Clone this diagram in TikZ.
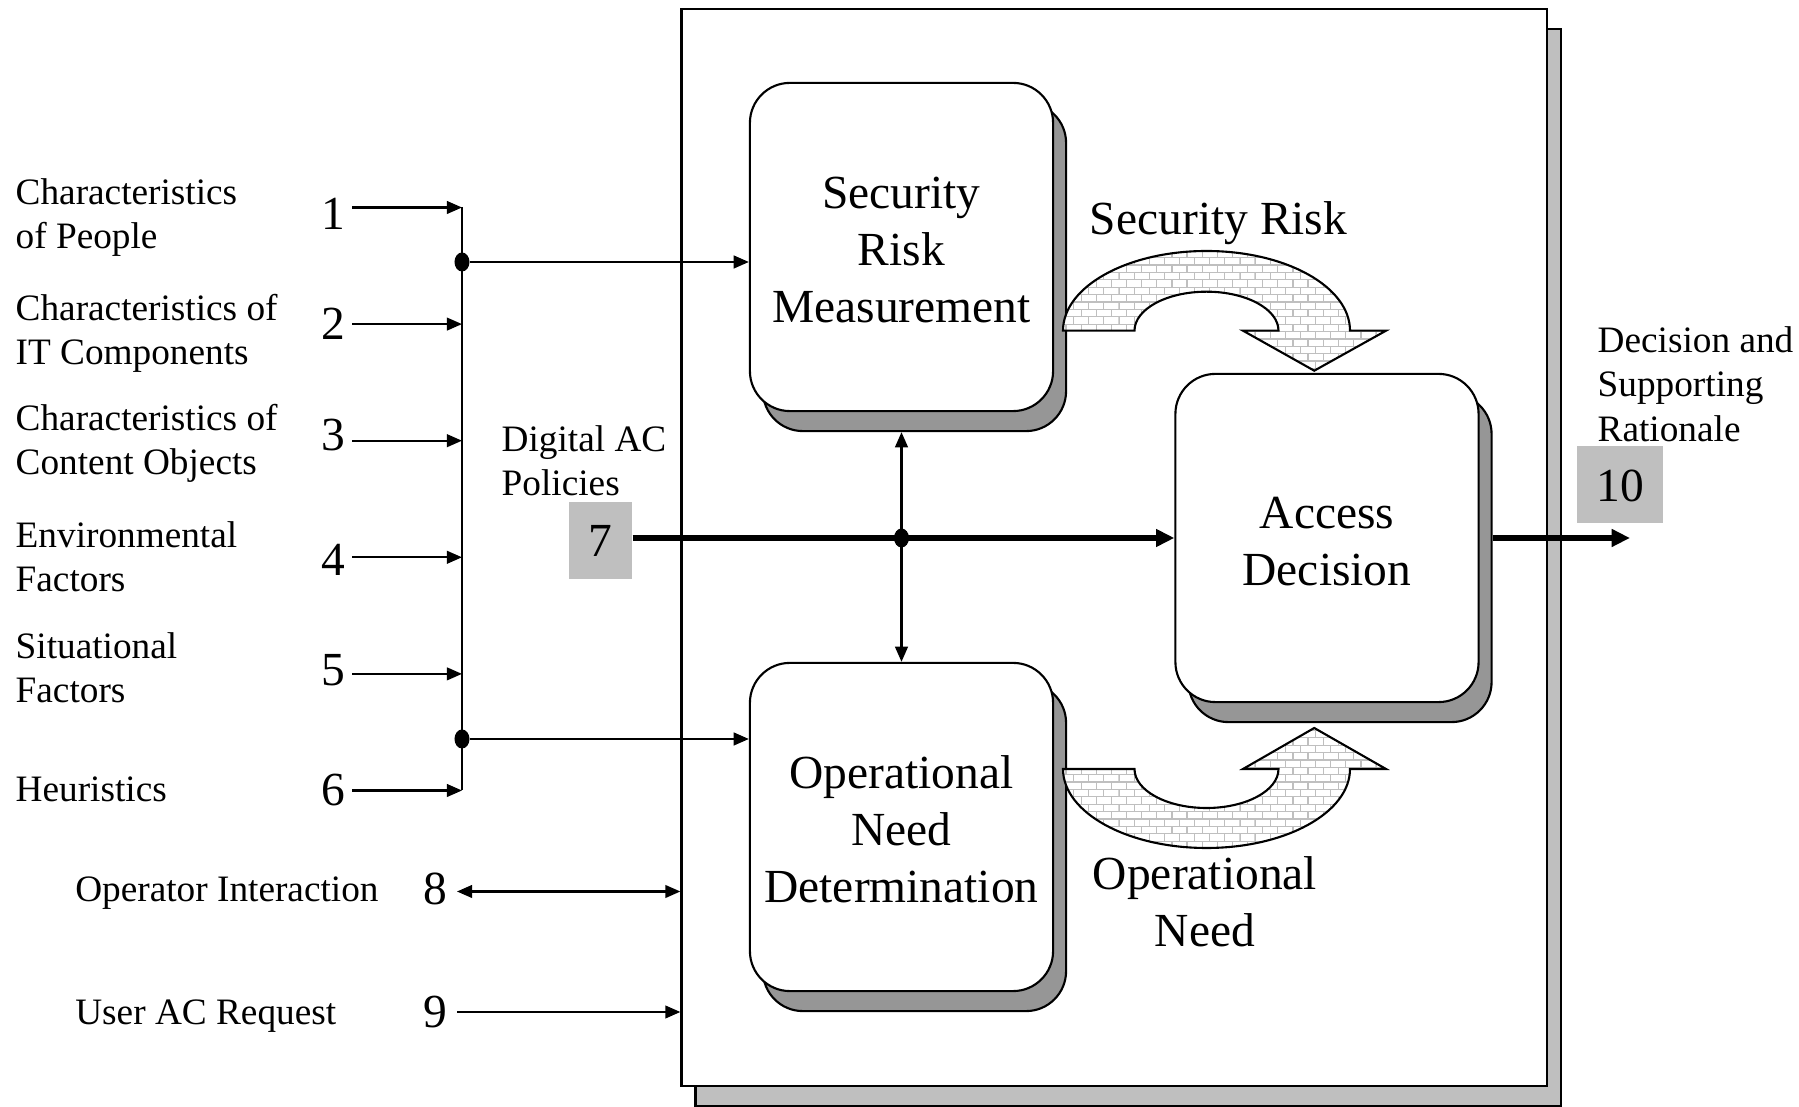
\documentclass[tikz,border=0pt]{standalone}
\usepackage{fontspec}
\setmainfont{Liberation Serif}
\usetikzlibrary{arrows.meta,shapes.geometric,shadows,patterns}

% small brick fill for the two curved arrows
\pgfdeclarepatternformonly{smallbricks}{\pgfqpoint{-0.2pt}{-0.2pt}}{\pgfqpoint{4.5pt}{4.4pt}}{\pgfqpoint{4.3pt}{4.2pt}}{%
  \pgfsetlinewidth{0.35pt}
  \pgfpathmoveto{\pgfqpoint{0pt}{0pt}}\pgfpathlineto{\pgfqpoint{4.3pt}{0pt}}
  \pgfpathmoveto{\pgfqpoint{0pt}{2.1pt}}\pgfpathlineto{\pgfqpoint{4.3pt}{2.1pt}}
  \pgfpathmoveto{\pgfqpoint{0pt}{0pt}}\pgfpathlineto{\pgfqpoint{0pt}{2.1pt}}
  \pgfpathmoveto{\pgfqpoint{2.15pt}{2.1pt}}\pgfpathlineto{\pgfqpoint{2.15pt}{4.2pt}}
  \pgfusepath{stroke}}

\newcommand\boxfont{\fontsize{13.5}{16.2}\selectfont}
\newcommand\lblfont{\fontsize{10.6}{12.6}\selectfont}
% text lowered a little, box size kept
\newcommand\lowered[2]{\raisebox{-#1}[\height][\depth]{\begin{tabular}{@{}c@{}}#2\end{tabular}}}

\tikzset{
  stepbox/.style={draw, line width=0.6pt, fill=white, rounded corners=0.4cm,
    minimum width=3.03cm, minimum height=3.28cm, inner sep=0pt, align=center, font=\boxfont,
    drop shadow={shadow xshift=0.13cm, shadow yshift=-0.2cm, opacity=1,
      fill=black!41, draw=black, line width=0.6pt}},
  frame/.style={draw, line width=0.6pt, fill=white, inner sep=0pt,
    drop shadow={shadow xshift=0.14cm, shadow yshift=-0.2cm, opacity=1,
      fill=black!25, draw=black, line width=0.6pt}},
  numbox/.style={fill=black!25, inner sep=0pt, font=\boxfont},
  num/.style={inner sep=0pt, font=\boxfont},
  lbl/.style={inner sep=0pt, anchor=west, align=left, font=\lblfont},
  junction/.style={ellipse, fill, inner sep=0pt, minimum width=0.15cm, minimum height=0.19cm},
  arr/.style={line width=0.6pt, -{Triangle[length=4.3pt,width=3.6pt]}},
  dblarr/.style={line width=0.6pt, {Triangle[length=4.3pt,width=3.6pt]}-{Triangle[length=4.3pt,width=3.6pt]}},
  thickarr/.style={line width=1.5pt, -{Triangle[length=5.2pt,width=4.8pt]}},
  flow/.style={draw, line width=0.6pt, preaction={fill=white}, pattern=smallbricks, pattern color=black!25},
}

\begin{document}
\begin{tikzpicture}[x=0.01cm,y=0.01cm]
  \useasboundingbox (0,0) rectangle (1799,-1107);

  \node[frame, minimum width=8.653cm, minimum height=10.765cm] (frame) at (1114.35,-547.75) {};

  \node[stepbox] (srm) at (901.5,-247) {\lowered{1.95pt}{Security\\Risk\\Measurement}};
  \node[stepbox] (ond) at (901.5,-827) {\lowered{1.95pt}{Operational\\Need\\Determination}};
  \node[stepbox] (ad) at (1327,-538) {\lowered{2.3pt}{Access\\Decision}};

  % curved arrows
  \path[flow] (1063,-330.7) arc[start angle=180, end angle=0, x radius=143.5, y radius=79.7]
    -- (1386,-330.7) -- (1314.25,-370.7) -- (1243,-330.7) -- (1278.5,-330.7)
    arc[start angle=0, end angle=180, x radius=72, y radius=39] -- cycle;
  \path[flow] (1063,-769) arc[start angle=180, end angle=360, x radius=143.5, y radius=79]
    -- (1386,-769) -- (1314.25,-728) -- (1243,-769) -- (1278.5,-769)
    arc[start angle=360, end angle=180, x radius=72, y radius=39] -- cycle;
  \node[font=\boxfont, inner sep=0pt] (srlbl) at (1218.5,-223) {Security Risk};
  \node[font=\boxfont, inner sep=0pt, align=center] (onlbl) at (1205,-902) {Operational\\Need};

  % inputs 1-6
  \coordinate (bustop) at (462,-207.5);
  \coordinate (busbot) at (462,-790.5);
  \draw[line width=0.6pt] (bustop) -- (busbot);
  \foreach \i/\y/\dy in {1/207.5/6, 2/324.1/0, 3/440.7/-6, 4/557.3/3, 5/673.9/-4, 6/790.5/0} {
    \node[num] (n\i) at (333,{-(\y+\dy)}) {\i};
    \coordinate (t\i) at (352,-\y);
    \draw[arr] (t\i) -- (t\i -| bustop);
  }
  \foreach \i/\y/\txt in {1/217.4/{Characteristics\\of People}, 2/333.4/{Characteristics of\\IT Components},
      3/443.5/{Characteristics of\\Content Objects}, 4/556.5/{Environmental\\Factors},
      5/667.5/{Situational\\Factors}, 6/789.4/{Heuristics}}
    \node[lbl] (l\i) at (15,-\y) {\txt};

  \node[junction] (j1) at (462,-262) {};
  \node[junction] (j2) at (462,-739) {};
  \draw[arr] (j1) -- (j1 -| srm.west);
  \draw[arr] (j2) -- (j2 -| ond.west);

  % inputs 8 and 9
  \node[lbl] (l8) at (74.6,-893.5) {Operator Interaction};
  \node[lbl] (l9) at (74.6,-1016.5) {User AC Request};
  \node[num] (n8) at (435,-889) {8};
  \node[num] (n9) at (435,-1012) {9};
  \coordinate (t8) at (457,-891.5);
  \coordinate (t9) at (457,-1012);
  \draw[dblarr] (t8) -- (t8 -| frame.west);
  \draw[arr] (t9) -- (t9 -| frame.west);

  % policies 7
  \node[lbl] (l7) at (501,-461) {Digital AC\\Policies};
  \node[numbox, minimum width=0.63cm, minimum height=0.77cm] (p7) at (600.5,-540.5) {7};
  \draw[thickarr] (p7.east |- ad.west) -- (ad.west);
  \node[junction] (j3) at (srm.south |- ad.west) {};
  \draw[dblarr] ([yshift=-0.2cm]srm.south) -- (ond.north);

  % output 10
  \node[lbl] (l10) at (1597,-384) {Decision and\\Supporting\\Rationale};
  \node[numbox, minimum width=0.855cm, minimum height=0.77cm] (p10) at (1620,-484.5) {\lowered{1.65pt}{10}};
  \coordinate (out) at (1630,-538);
  \draw[thickarr] ([xshift=0.13cm]ad.east) -- (out);
\end{tikzpicture}
\end{document}
